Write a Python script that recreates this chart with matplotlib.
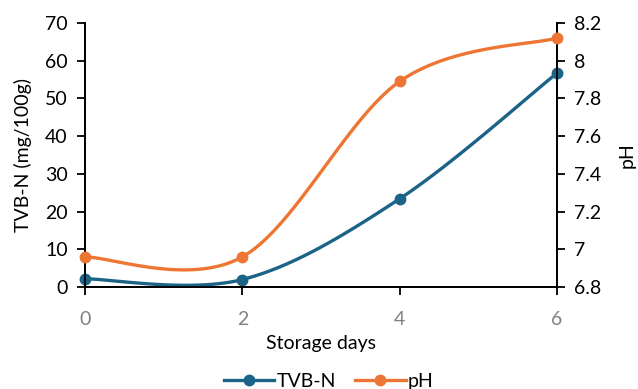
import numpy as np
import matplotlib
matplotlib.use("Agg")
import matplotlib.pyplot as plt
from matplotlib.lines import Line2D

days = [0, 2, 4, 6]
tvbn = [2.2, 2.0, 23.4, 56.7]
ph = [6.96, 6.96, 7.89, 8.12]

plt.rcParams['font.family'] = ['Lato', 'DejaVu Sans']

def smooth(x, y, n=40):
    x = np.asarray(x, float); y = np.asarray(y, float)
    px = np.concatenate([[x[0]], x, [x[-1]]])
    py = np.concatenate([[y[0]], y, [y[-1]]])
    xs, ys = [], []
    for i in range(1, len(px) - 2):
        p0, p1, p2, p3 = [(px[j], py[j]) for j in (i - 1, i, i + 1, i + 2)]
        c1 = (p1[0] + (p2[0] - p0[0]) / 6, p1[1] + (p2[1] - p0[1]) / 6)
        c2 = (p2[0] - (p3[0] - p1[0]) / 6, p2[1] - (p3[1] - p1[1]) / 6)
        t = np.linspace(0, 1, n)
        b = lambda a0, a1, a2, a3: ((1 - t) ** 3 * a0 + 3 * (1 - t) ** 2 * t * a1
                                    + 3 * (1 - t) * t ** 2 * a2 + t ** 3 * a3)
        xs.append(b(p1[0], c1[0], c2[0], p2[0]))
        ys.append(b(p1[1], c1[1], c2[1], p2[1]))
    return np.concatenate(xs), np.concatenate(ys)

c_tvb = '#1B6387'
c_ph = '#EE7634'
fs = 14

fig = plt.figure(figsize=(6.38, 3.89), dpi=100)
ax = fig.add_axes([0.1332, 0.262, 0.7398, 0.679])
ax2 = ax.twinx()

sx, sy = smooth(days, tvbn)
ax.plot(sx, sy, color=c_tvb, lw=2.4, solid_capstyle='round', clip_on=False, zorder=3)
ax.plot(days, tvbn, 'o', color=c_tvb, ms=7.5, clip_on=False, zorder=4)

sx2, sy2 = smooth(days, ph)
ax2.plot(sx2, sy2, color=c_ph, lw=2.4, solid_capstyle='round', clip_on=False, zorder=3)
ax2.plot(days, ph, 'o', color=c_ph, ms=7.5, clip_on=False, zorder=4)

ax.set_xlim(0, 6)
ax.set_ylim(0, 70)
ax2.set_ylim(6.8, 8.2)
ax.set_xticks([0, 2, 4, 6])
ax.set_yticks(np.arange(0, 71, 10))
ax2.set_yticks([6.8, 7.0, 7.2, 7.4, 7.6, 7.8, 8.0, 8.2])
ax2.set_yticklabels(['6.8', '7', '7.2', '7.4', '7.6', '7.8', '8', '8.2'])

for a in (ax, ax2):
    a.spines['top'].set_visible(False)
    for s in a.spines.values():
        s.set_linewidth(1.3)
        s.set_color('black')
    a.tick_params(width=1.3, length=5.5, labelsize=fs, colors='black', pad=7)
ax.tick_params(axis='x', labelcolor='#808080', pad=12, labelsize=fs)

ax.set_xlabel('Storage days', fontsize=fs, labelpad=5)
ax.set_ylabel('TVB-N (mg/100g)', fontsize=fs, labelpad=9)
ax2.set_ylabel('pH', fontsize=fs, labelpad=12)

handles = [Line2D([], [], color=c_tvb, lw=2.4, marker='o', ms=7.5),
           Line2D([], [], color=c_ph, lw=2.4, marker='o', ms=7.5)]
fig.legend(handles, ['TVB-N', 'pH'], loc='center', bbox_to_anchor=(0.515, 0.02),
           ncol=2, frameon=False, fontsize=fs, handlelength=2.6, columnspacing=1.0,
           handletextpad=0.1)

fig.savefig('out.png', dpi=100)
